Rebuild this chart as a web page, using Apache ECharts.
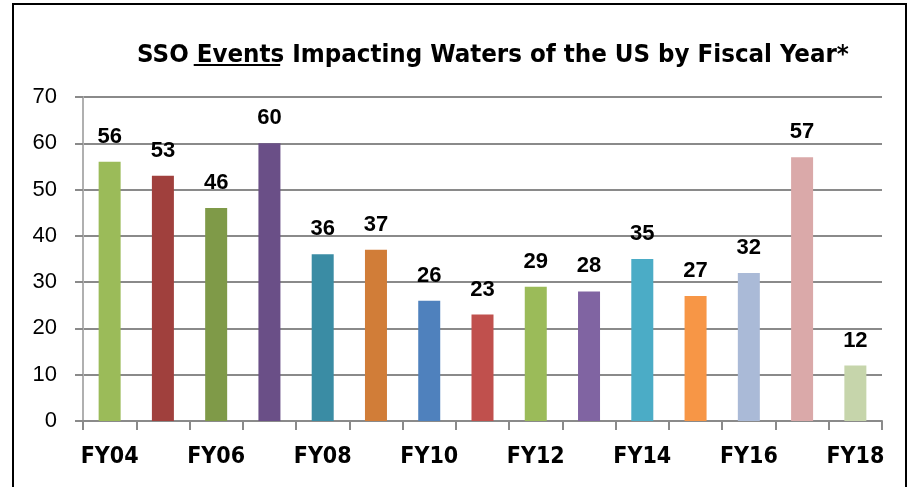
<!DOCTYPE html>
<html>
<head>
<meta charset="utf-8">
<script src="https://cdn.jsdelivr.net/npm/echarts@6/dist/echarts.min.js"></script>
<style>html,body{margin:0;padding:0;background:#fff}#c{width:909px;height:487px}</style>
</head>
<body>
<div id="c"></div>
<script>
var categories = ['FY04','FY05','FY06','FY07','FY08','FY09','FY10','FY11','FY12','FY13','FY14','FY15','FY16','FY17','FY18'];
var events = [56,53,46,60,36,37,26,23,29,28,35,27,32,57,12];
var barColors = ['#9BBB59','#A0403D','#7F9A48','#6A4F87','#3A8CA4','#D17D38','#4F81BD','#C0504D','#9BBB59','#8064A2','#4BACC6','#F79646','#AABAD7','#DAA9A9','#C6D5AB'];
var yTicks = [0,10,20,30,40,50,60,70];

var TFONT = '"DejaVu Sans Condensed", "Liberation Sans", sans-serif';
var TSIZE = 25.6;
var chart = echarts.init(document.getElementById('c'), null, {renderer:'canvas'});
var titleText = 'SSO Events Impacting Waters of the US by Fiscal Year*';
chart.setOption({
  animation:false,
  backgroundColor:'#fff',
  title:{
    text:titleText,
    left:488, top:37, textAlign:'center',
    textStyle:{fontFamily:TFONT,fontWeight:'bold',fontSize:TSIZE,color:'#000'}
  },
  grid:{left:83,right:27,top:97,bottom:66},
  xAxis:{
    type:'category',
    data:categories,
    axisLine:{lineStyle:{color:'#8a8a8a',width:2}},
    axisTick:{show:true,length:9,interval:0,alignWithLabel:false,lineStyle:{color:'#8a8a8a',width:2}},
    axisLabel:{interval:1,margin:25,color:'#000',fontFamily:TFONT,fontWeight:'bold',fontSize:23}
  },
  yAxis:{
    type:'value',min:0,max:70,interval:10,
    axisLine:{show:true,lineStyle:{color:'#b0b0b0',width:2}},
    axisTick:{show:true,length:8,lineStyle:{color:'#8a8a8a',width:2}},
    splitLine:{lineStyle:{color:'#8a8a8a',width:2}},
    axisLabel:{margin:26,color:'#000',fontFamily:'Liberation Sans',fontSize:22,
      formatter:function(v){return yTicks.indexOf(v)>=0?String(v):'';}}
  },
  series:[{
    type:'bar',
    data:events.map(function(v,i){return {value:v,itemStyle:{color:barColors[i]}};}),
    barWidth:22,
    label:{show:true,position:'top',distance:14,color:'#000',fontFamily:'Liberation Sans',fontWeight:'bold',fontSize:22}
  }]
});
(function(){
  var ctx = document.createElement('canvas').getContext('2d');
  ctx.font = 'bold ' + TSIZE + 'px ' + TFONT;
  var wFull = ctx.measureText(titleText).width;
  var wPre = ctx.measureText('SSO ').width;
  var wEv = ctx.measureText('Events').width;
  var x0 = 488 - wFull/2 + wPre + 2;
  chart.setOption({graphic:[
    {type:'polyline',shape:{points:[[13,487],[13,4],[906,4],[906,487]]},style:{stroke:'#000',lineWidth:2,fill:null},silent:true},
    {type:'line',shape:{x1:x0,y1:65,x2:x0+wEv-1,y2:65},style:{stroke:'#000',lineWidth:2},silent:true}
  ]});
})();
</script>
</body>
</html>
